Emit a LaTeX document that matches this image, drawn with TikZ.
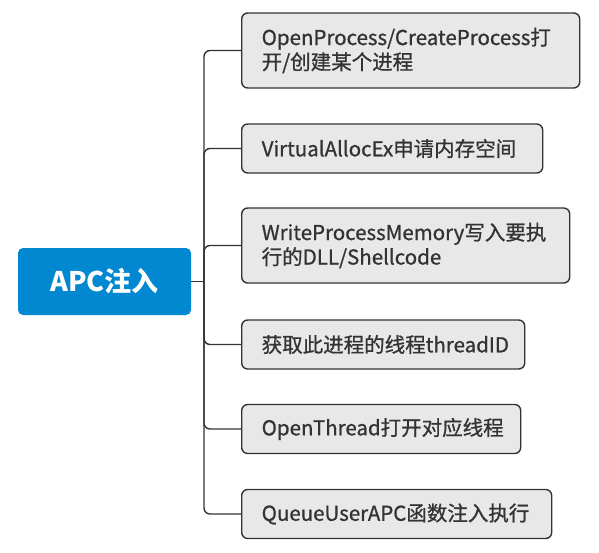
\documentclass[tikz,border=0pt]{standalone}
\usepackage{fontspec}
\setmainfont{Noto Sans CJK SC}
\newfontfamily\stepfont{Noto Sans CJK SC}[FakeBold=0.9]
\usetikzlibrary{calc}
\definecolor{rootblue}{HTML}{0288D1}
\definecolor{boxgray}{HTML}{E8E8E8}
\definecolor{linegray}{HTML}{333333}

\begin{document}
\begin{tikzpicture}[x=1pt, y=-1pt,
		rootbox/.style={fill=rootblue, rounded corners=5pt, text=white, minimum width=173pt, minimum height=67pt, font=\fontsize{27}{30}\selectfont\bfseries},
		stepbox/.style={draw=linegray, line width=1.4pt, fill=boxgray, rounded corners=6pt, anchor=west, inner xsep=20pt, inner ysep=0pt, align=left, text=linegray, font=\stepfont\fontsize{20.5}{24.5}\selectfont},
		onebox/.style={stepbox, minimum height=49pt},
		twobox/.style={stepbox, minimum height=75pt},
		branch/.style={draw=linegray, line width=1.4pt, rounded corners=6pt}]
		\useasboundingbox (0,0) rectangle (599,552);
		\node [rootbox] (apc) at (104.5,281.5) {APC注入};
		\node [twobox, text width=298pt] (open) at (241,50.5) {OpenProcess/CreateProcess打\\开/创建某个进程};
		\node [onebox, text width=261pt] (alloc) at (241,148.5) {VirtualAllocEx申请内存空间};
		\node [twobox, text width=288pt] (write) at (241,245.5) {WriteProcessMemory写入要执\\行的DLL/Shellcode};
		\node [onebox, text width=243pt] (tid) at (241,344.5) {获取此进程的线程threadID};
		\node [onebox, text width=239pt] (thread) at (241,429) {OpenThread打开对应线程};
		\node [onebox, text width=270pt] (queue) at (241,514) {QueueUserAPC函数注入执行};
		\coordinate (trunk) at (204,281.5);
		\draw [branch] (apc.east) -- (trunk);
		\draw [branch] (trunk) |- (open.west);
		\draw [branch] (trunk) |- (alloc.west);
		\draw [branch] (trunk) |- (write.west);
		\draw [branch] (trunk) |- (tid.west);
		\draw [branch] (trunk) |- (thread.west);
		\draw [branch] (trunk) |- (queue.west);
	\end{tikzpicture}
\end{document}
